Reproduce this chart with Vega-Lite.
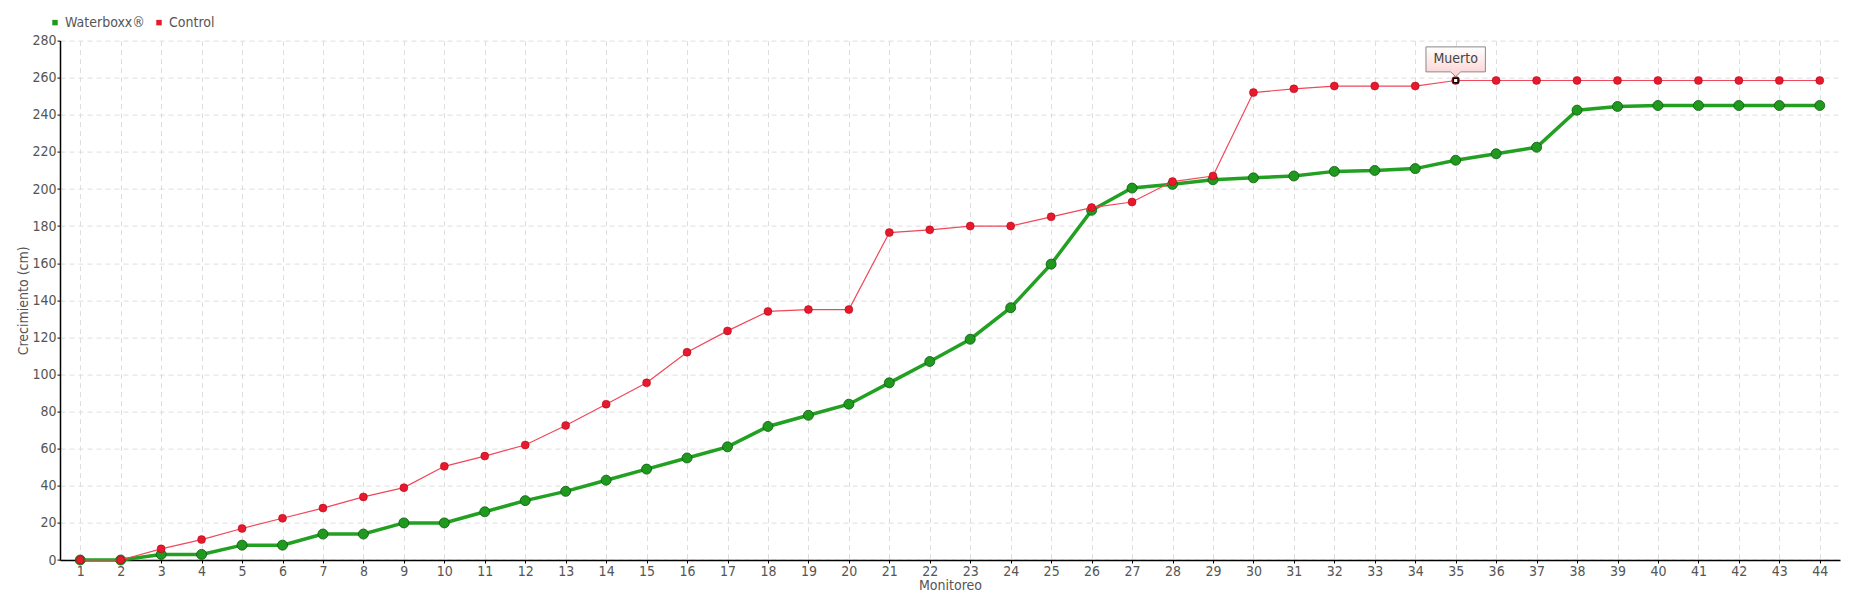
{
  "$schema": "https://vega.github.io/schema/vega-lite/v6.json",
  "autosize": {"type": "none"},
  "width": 1780,
  "height": 519.4,
  "padding": {"left": 60, "top": 40.6, "right": 20, "bottom": 40},
  "background": "white",
  "config": {
    "font": "DejaVu Sans Condensed, Liberation Sans Narrow, sans-serif",
    "view": {"stroke": null},
    "axis": {
      "labelFontSize": 14,
      "labelColor": "#555555",
      "labelFontWeight": "normal",
      "titleFontSize": 14,
      "titleColor": "#555555",
      "titleFontWeight": "normal",
      "domainColor": "#000000",
      "domainWidth": 1.5,
      "tickColor": "#000000",
      "tickSize": 3,
      "grid": true,
      "gridColor": "#dedede",
      "gridDash": [5, 4],
      "gridWidth": 1
    }
  },
  "datasets": {
    "rows": [
      {"series": "Waterboxx®", "monitoreo": 1, "crecimiento": 0},
      {"series": "Waterboxx®", "monitoreo": 2, "crecimiento": 0},
      {"series": "Waterboxx®", "monitoreo": 3, "crecimiento": 3},
      {"series": "Waterboxx®", "monitoreo": 4, "crecimiento": 3},
      {"series": "Waterboxx®", "monitoreo": 5, "crecimiento": 8},
      {"series": "Waterboxx®", "monitoreo": 6, "crecimiento": 8},
      {"series": "Waterboxx®", "monitoreo": 7, "crecimiento": 14},
      {"series": "Waterboxx®", "monitoreo": 8, "crecimiento": 14},
      {"series": "Waterboxx®", "monitoreo": 9, "crecimiento": 20},
      {"series": "Waterboxx®", "monitoreo": 10, "crecimiento": 20},
      {"series": "Waterboxx®", "monitoreo": 11, "crecimiento": 26},
      {"series": "Waterboxx®", "monitoreo": 12, "crecimiento": 32},
      {"series": "Waterboxx®", "monitoreo": 13, "crecimiento": 37},
      {"series": "Waterboxx®", "monitoreo": 14, "crecimiento": 43},
      {"series": "Waterboxx®", "monitoreo": 15, "crecimiento": 49},
      {"series": "Waterboxx®", "monitoreo": 16, "crecimiento": 55},
      {"series": "Waterboxx®", "monitoreo": 17, "crecimiento": 61},
      {"series": "Waterboxx®", "monitoreo": 18, "crecimiento": 72},
      {"series": "Waterboxx®", "monitoreo": 19, "crecimiento": 78},
      {"series": "Waterboxx®", "monitoreo": 20, "crecimiento": 84},
      {"series": "Waterboxx®", "monitoreo": 21, "crecimiento": 95.5},
      {"series": "Waterboxx®", "monitoreo": 22, "crecimiento": 107},
      {"series": "Waterboxx®", "monitoreo": 23, "crecimiento": 119},
      {"series": "Waterboxx®", "monitoreo": 24, "crecimiento": 136},
      {"series": "Waterboxx®", "monitoreo": 25, "crecimiento": 159.5},
      {"series": "Waterboxx®", "monitoreo": 26, "crecimiento": 188.5},
      {"series": "Waterboxx®", "monitoreo": 27, "crecimiento": 200.5},
      {"series": "Waterboxx®", "monitoreo": 28, "crecimiento": 202.5},
      {"series": "Waterboxx®", "monitoreo": 29, "crecimiento": 205},
      {"series": "Waterboxx®", "monitoreo": 30, "crecimiento": 206},
      {"series": "Waterboxx®", "monitoreo": 31, "crecimiento": 207},
      {"series": "Waterboxx®", "monitoreo": 32, "crecimiento": 209.5},
      {"series": "Waterboxx®", "monitoreo": 33, "crecimiento": 210},
      {"series": "Waterboxx®", "monitoreo": 34, "crecimiento": 211},
      {"series": "Waterboxx®", "monitoreo": 35, "crecimiento": 215.5},
      {"series": "Waterboxx®", "monitoreo": 36, "crecimiento": 219},
      {"series": "Waterboxx®", "monitoreo": 37, "crecimiento": 222.5},
      {"series": "Waterboxx®", "monitoreo": 38, "crecimiento": 242.5},
      {"series": "Waterboxx®", "monitoreo": 39, "crecimiento": 244.5},
      {"series": "Waterboxx®", "monitoreo": 40, "crecimiento": 245},
      {"series": "Waterboxx®", "monitoreo": 41, "crecimiento": 245},
      {"series": "Waterboxx®", "monitoreo": 42, "crecimiento": 245},
      {"series": "Waterboxx®", "monitoreo": 43, "crecimiento": 245},
      {"series": "Waterboxx®", "monitoreo": 44, "crecimiento": 245},
      {"series": "Control", "monitoreo": 1, "crecimiento": 0},
      {"series": "Control", "monitoreo": 2, "crecimiento": 0},
      {"series": "Control", "monitoreo": 3, "crecimiento": 6},
      {"series": "Control", "monitoreo": 4, "crecimiento": 11},
      {"series": "Control", "monitoreo": 5, "crecimiento": 17},
      {"series": "Control", "monitoreo": 6, "crecimiento": 22.5},
      {"series": "Control", "monitoreo": 7, "crecimiento": 28},
      {"series": "Control", "monitoreo": 8, "crecimiento": 34},
      {"series": "Control", "monitoreo": 9, "crecimiento": 39},
      {"series": "Control", "monitoreo": 10, "crecimiento": 50.5},
      {"series": "Control", "monitoreo": 11, "crecimiento": 56},
      {"series": "Control", "monitoreo": 12, "crecimiento": 62},
      {"series": "Control", "monitoreo": 13, "crecimiento": 72.5},
      {"series": "Control", "monitoreo": 14, "crecimiento": 84},
      {"series": "Control", "monitoreo": 15, "crecimiento": 95.5},
      {"series": "Control", "monitoreo": 16, "crecimiento": 112},
      {"series": "Control", "monitoreo": 17, "crecimiento": 123.5},
      {"series": "Control", "monitoreo": 18, "crecimiento": 134},
      {"series": "Control", "monitoreo": 19, "crecimiento": 135},
      {"series": "Control", "monitoreo": 20, "crecimiento": 135},
      {"series": "Control", "monitoreo": 21, "crecimiento": 176.5},
      {"series": "Control", "monitoreo": 22, "crecimiento": 178},
      {"series": "Control", "monitoreo": 23, "crecimiento": 180},
      {"series": "Control", "monitoreo": 24, "crecimiento": 180},
      {"series": "Control", "monitoreo": 25, "crecimiento": 185},
      {"series": "Control", "monitoreo": 26, "crecimiento": 190},
      {"series": "Control", "monitoreo": 27, "crecimiento": 193},
      {"series": "Control", "monitoreo": 28, "crecimiento": 204},
      {"series": "Control", "monitoreo": 29, "crecimiento": 207},
      {"series": "Control", "monitoreo": 30, "crecimiento": 252},
      {"series": "Control", "monitoreo": 31, "crecimiento": 254},
      {"series": "Control", "monitoreo": 32, "crecimiento": 255.5},
      {"series": "Control", "monitoreo": 33, "crecimiento": 255.5},
      {"series": "Control", "monitoreo": 34, "crecimiento": 255.5},
      {"series": "Control", "monitoreo": 35, "crecimiento": 258.5},
      {"series": "Control", "monitoreo": 36, "crecimiento": 258.5},
      {"series": "Control", "monitoreo": 37, "crecimiento": 258.5},
      {"series": "Control", "monitoreo": 38, "crecimiento": 258.5},
      {"series": "Control", "monitoreo": 39, "crecimiento": 258.5},
      {"series": "Control", "monitoreo": 40, "crecimiento": 258.5},
      {"series": "Control", "monitoreo": 41, "crecimiento": 258.5},
      {"series": "Control", "monitoreo": 42, "crecimiento": 258.5},
      {"series": "Control", "monitoreo": 43, "crecimiento": 258.5},
      {"series": "Control", "monitoreo": 44, "crecimiento": 258.5}
    ]
  },
  "data": {"name": "rows"},
  "encoding": {
    "x": {
      "field": "monitoreo",
      "type": "quantitative",
      "scale": {"domain": [0.5, 44.5], "nice": false, "zero": false},
      "axis": {
        "title": "Monitoreo",
        "values": [1,2,3,4,5,6,7,8,9,10,11,12,13,14,15,16,17,18,19,20,21,22,23,24,25,26,27,28,29,30,31,32,33,34,35,36,37,38,39,40,41,42,43,44],
        "labelPadding": 1,
        "titlePadding": 0
      }
    },
    "y": {
      "field": "crecimiento",
      "type": "quantitative",
      "scale": {"domain": [0, 280], "nice": false},
      "axis": {
        "title": "Crecimiento (cm)",
        "values": [0,20,40,60,80,100,120,140,160,180,200,220,240,260,280],
        "labelPadding": 1,
        "titlePadding": 1
      }
    }
  },
  "layer": [
    {
      "transform": [{"filter": "datum.series === 'Waterboxx®'"}],
      "mark": {"type": "line", "color": "#22a022", "strokeWidth": 3.5},
      "encoding": {"order": {"field": "monitoreo", "type": "quantitative"}}
    },
    {
      "transform": [{"filter": "datum.series === 'Waterboxx®'"}],
      "mark": {"type": "point", "filled": true, "size": 100, "opacity": 1, "stroke": "#0c5a0c", "strokeWidth": 1, "strokeOpacity": 0.8},
      "encoding": {
        "fill": {
          "field": "series",
          "type": "nominal",
          "scale": {"domain": ["Waterboxx®", "Control"], "range": ["#1f9a1f", "#e8192c"]},
          "legend": {
            "title": null,
            "orient": "none",
            "legendX": -12,
            "legendY": -25,
            "direction": "horizontal",
            "symbolType": "square",
            "symbolSize": 30,
            "symbolStrokeWidth": 0,
            "symbolOpacity": 1,
            "labelFontSize": 14,
            "labelColor": "#555555",
            "labelOffset": 3,
            "columnPadding": 7,
            "padding": 0
          }
        }
      }
    },
    {
      "transform": [{"filter": "datum.series === 'Control'"}],
      "mark": {"type": "line", "color": "#f0475a", "strokeWidth": 1.2},
      "encoding": {"order": {"field": "monitoreo", "type": "quantitative"}}
    },
    {
      "transform": [{"filter": "datum.series === 'Control'"}],
      "mark": {"type": "point", "filled": true, "size": 64, "opacity": 1, "stroke": "#a00010", "strokeWidth": 0.8, "strokeOpacity": 0.6},
      "encoding": {
        "fill": {"field": "series", "type": "nominal"}
      }
    },
    {
      "transform": [{"filter": "datum.series === 'Control' && datum.monitoreo === 35"}],
      "mark": {
        "type": "point",
        "shape": "M-0.99,-1.12L0.99,-1.12L0.99,-0.287L0.17,-0.287L0,-0.13L-0.17,-0.287L-0.99,-0.287Z",
        "size": 3600,
        "filled": true,
        "opacity": 1,
        "fill": {
          "gradient": "linear",
          "x1": 0, "y1": 0, "x2": 0, "y2": 1,
          "stops": [{"offset": 0, "color": "#ffffff"}, {"offset": 1, "color": "#fcd0d0"}]
        },
        "stroke": "#888888",
        "strokeWidth": 1
      },
      "encoding": {}
    },
    {
      "transform": [{"filter": "datum.series === 'Control' && datum.monitoreo === 35"}],
      "mark": {"type": "text", "text": "Muerto", "dy": -21, "baseline": "middle", "align": "center", "fontSize": 14, "color": "#444444"},
      "encoding": {}
    },
    {
      "transform": [{"filter": "datum.series === 'Control' && datum.monitoreo === 35"}],
      "mark": {"type": "point", "shape": "square", "size": 22, "filled": true, "fill": "#ffffff", "stroke": "#000000", "strokeWidth": 1.5, "opacity": 1},
      "encoding": {}
    }
  ]
}
